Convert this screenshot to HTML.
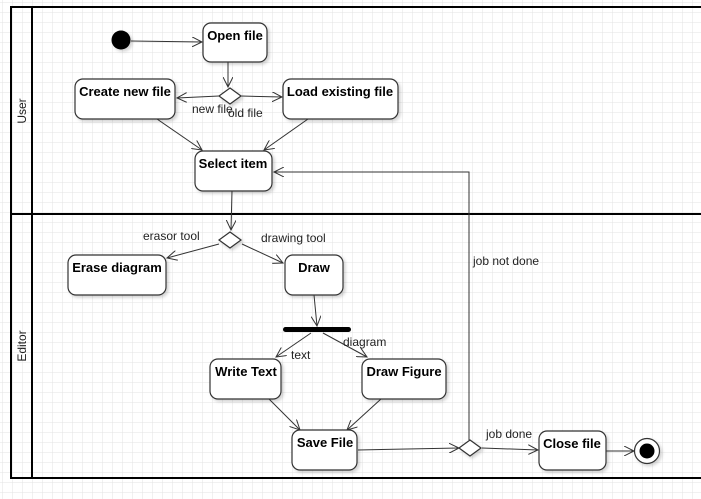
<!DOCTYPE html>
<html><head><style>
html,body{margin:0;padding:0;background:#fff}
svg{display:block}
text{font-family:"Liberation Sans",Arial,sans-serif;font-size:12px;fill:#222}
.b{font-weight:bold;font-size:13px;fill:#000}
.n{fill:#fff;stroke:#333;stroke-width:1.2}
.l{stroke:#333;stroke-width:1;fill:none}
</style></head><body>
<svg width="701" height="499" viewBox="0 0 701 499" xmlns="http://www.w3.org/2000/svg">
<defs>
<pattern id="g" width="10" height="10" patternUnits="userSpaceOnUse" x="2" y="2">
<path d="M10 0H0V10" fill="none" stroke="#e3e3e3" stroke-width="1"/>
</pattern>
<marker id="a" markerWidth="12" markerHeight="10" refX="10" refY="5" orient="auto" markerUnits="userSpaceOnUse">
<path d="M0 0L10 5L0 10" fill="none" stroke="#333" stroke-width="1"/>
</marker>
<filter id="s" x="-10%" y="-10%" width="130%" height="140%"><feDropShadow dx="2" dy="2" stdDeviation="1.5" flood-color="#000" flood-opacity="0.18"/></filter>
</defs>
<rect width="701" height="499" fill="url(#g)"/>
<path d="M701 7H11V478H701" fill="none" stroke="#000" stroke-width="2"/>
<line x1="32" y1="7" x2="32" y2="478" stroke="#000" stroke-width="2"/>
<line x1="11" y1="214" x2="701" y2="214" stroke="#000" stroke-width="2"/>
<text transform="translate(26,111) rotate(-90)" text-anchor="middle">User</text>
<text transform="translate(26,346) rotate(-90)" text-anchor="middle">Editor</text>

<line class="l" x1="131" y1="41" x2="202" y2="42" marker-end="url(#a)"/>
<line class="l" x1="228" y1="62" x2="228" y2="87" marker-end="url(#a)"/>
<line class="l" x1="219" y1="96" x2="177" y2="98" marker-end="url(#a)"/>
<line class="l" x1="241" y1="96" x2="282" y2="97" marker-end="url(#a)"/>
<line class="l" x1="157" y1="119" x2="202" y2="150" marker-end="url(#a)"/>
<line class="l" x1="308" y1="119" x2="264" y2="150" marker-end="url(#a)"/>
<line class="l" x1="232" y1="191" x2="231" y2="230" marker-end="url(#a)"/>
<line class="l" x1="219" y1="244" x2="167" y2="258" marker-end="url(#a)"/>
<line class="l" x1="242" y1="244" x2="283" y2="263" marker-end="url(#a)"/>
<line class="l" x1="314" y1="295" x2="317" y2="326" marker-end="url(#a)"/>
<line class="l" x1="311" y1="333" x2="276" y2="357" marker-end="url(#a)"/>
<line class="l" x1="323" y1="333" x2="367" y2="357" marker-end="url(#a)"/>
<line class="l" x1="269" y1="399" x2="300" y2="430" marker-end="url(#a)"/>
<line class="l" x1="381" y1="399" x2="347" y2="430" marker-end="url(#a)"/>
<line class="l" x1="358" y1="450" x2="459" y2="448" marker-end="url(#a)"/>
<line class="l" x1="482" y1="448" x2="538" y2="450" marker-end="url(#a)"/>
<line class="l" x1="606" y1="451" x2="634" y2="451" marker-end="url(#a)"/>
<polyline class="l" points="469,440 469,172 274,172" marker-end="url(#a)"/>

<circle cx="121" cy="40" r="9.5" fill="#000" filter="url(#s)"/>
<g filter="url(#s)">
<rect class="n" x="203" y="23" width="64" height="39" rx="8"/>
<rect class="n" x="75" y="79" width="100" height="40" rx="8"/>
<rect class="n" x="283" y="79" width="115" height="40" rx="8"/>
<rect class="n" x="195" y="151" width="77" height="40" rx="8"/>
<rect class="n" x="68" y="255" width="98" height="40" rx="8"/>
<rect class="n" x="285" y="255" width="58" height="40" rx="8"/>
<rect class="n" x="210" y="359" width="71" height="40" rx="8"/>
<rect class="n" x="362" y="359" width="84" height="40" rx="8"/>
<rect class="n" x="292" y="430" width="65" height="40" rx="8"/>
<rect class="n" x="539" y="431" width="67" height="39" rx="8"/>
<path class="n" d="M230 88L241 96L230 104L219 96Z"/>
<path class="n" d="M230 232L241 240L230 248L219 240Z"/>
<path class="n" d="M470 440L481 448L470 456L459 448Z"/>
<circle cx="647" cy="451" r="12.5" fill="#fff" stroke="#333" stroke-width="1.2"/>
</g>
<circle cx="647" cy="451" r="7.5" fill="#000"/>
<rect x="283" y="327" width="68" height="5" rx="2.5" fill="#000"/>

<text class="b" x="235" y="40" text-anchor="middle">Open file</text>
<text class="b" x="125" y="96" text-anchor="middle">Create new file</text>
<text class="b" x="340" y="96" text-anchor="middle">Load existing file</text>
<text class="b" x="233" y="168" text-anchor="middle">Select item</text>
<text class="b" x="117" y="272" text-anchor="middle">Erase diagram</text>
<text class="b" x="314" y="272" text-anchor="middle">Draw</text>
<text class="b" x="246" y="376" text-anchor="middle">Write Text</text>
<text class="b" x="404" y="376" text-anchor="middle">Draw Figure</text>
<text class="b" x="325" y="447" text-anchor="middle">Save File</text>
<text class="b" x="572" y="448" text-anchor="middle">Close file</text>

<text x="192" y="113">new file</text>
<text x="228" y="117">old file</text>
<text x="143" y="240">erasor tool</text>
<text x="261" y="242">drawing tool</text>
<text x="291" y="359">text</text>
<text x="343" y="346">diagram</text>
<text x="473" y="265">job not done</text>
<text x="486" y="438">job done</text>
</svg>
</body></html>
